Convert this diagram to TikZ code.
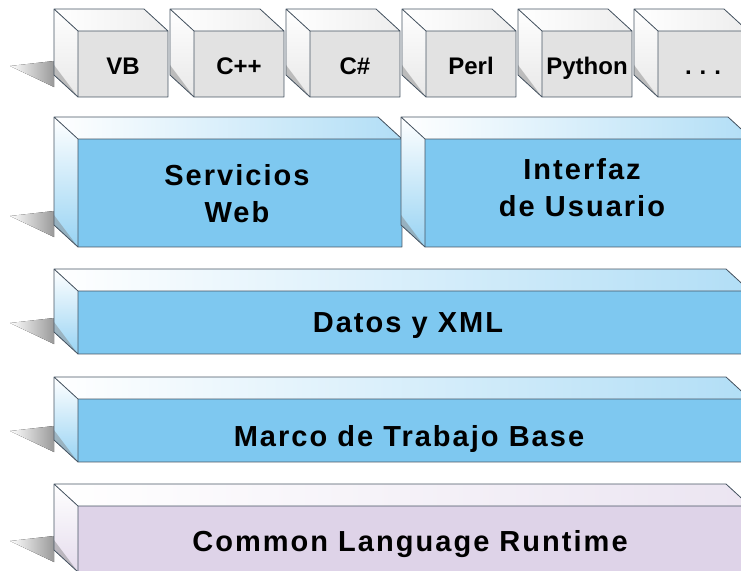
\documentclass[tikz,border=0pt]{standalone}
\usepackage{fontspec}
\setmainfont{Liberation Sans}
\definecolor{azul}{RGB}{126,200,240}
\definecolor{lila}{RGB}{222,211,232}
\definecolor{gris}{RGB}{226,226,226}
\definecolor{borde}{RGB}{72,86,100}
% caja: x izq, y arriba, x der, y abajo (cara frontal), color
\newcommand{\capa}[5]{%
	\fill[left color=white, right color=#5!60!white] (#1-24,#2-22) -- (#3-24,#2-22) -- (#3,#2) -- (#1,#2) -- cycle;
	\fill[top color=white, bottom color=#5!80!white] (#1-24,#2-22) -- (#1,#2) -- (#1,#4) -- (#1-24,#4-22) -- cycle;
	\fill[black!50, opacity=0.45] (#1-24,#4-32) -- (#1,#4) -- (#1-24,#4-22) -- cycle;
	\fill[#5] (#1,#2) rectangle (#3,#4);
	\draw[borde] (#1-24,#2-22) -- (#3-24,#2-22) -- (#3,#2) -- (#1,#2) -- cycle
		(#1-24,#2-22) -- (#1-24,#4-22) -- (#1,#4) -- (#3,#4) -- (#3,#2) (#1,#2) -- (#1,#4);
}
\begin{document}
\begin{tikzpicture}[x=1pt, y=-1pt, line width=0.8pt, line join=round,
	rotulo/.style={font=\fontsize{29}{37}\selectfont\bfseries\addfontfeatures{LetterSpace=7}, align=center},
	lengua/.style={font=\fontsize{24}{28}\selectfont\bfseries, anchor=base},
	sombra/.style={left color=white, right color=black!40}]
		\useasboundingbox (0,0) rectangle (741,570);
		\clip (0,0) rectangle (741,570);
		% sombras en el suelo
		\foreach \yb in {75,225,332,440,550}
			\fill[sombra] (10,\yb-9) -- (54,\yb-14) -- (54,\yb+12) -- cycle;
		% lenguajes
		\foreach \x/\lang in {78/VB,194/C++,310/C\#,426/Perl,542/Python,658/{.\hspace{8pt}.\hspace{8pt}.}}{
			\capa{\x}{31}{\x+90}{97}{gris}
			\node[lengua] (leng-\x) at (\x+45,74) {\lang};
		}
		% capas
		\capa{78}{139}{402}{247}{azul}
		\capa{425}{139}{752}{247}{azul}
		\capa{78}{291}{750}{354}{azul}
		\capa{78}{399}{750}{462}{azul}
		\capa{78}{506}{750}{572}{lila}
		\node[rotulo] (web) at (237,194) {Servicios\\Web};
		\node[rotulo] (interfaz) at (582,188) {Interfaz\\de Usuario};
		\node[rotulo, anchor=base] (datos) at (408,332) {Datos y XML};
		\node[rotulo, anchor=base] (marco) at (409,446) {Marco de Trabajo Base};
		\node[rotulo, anchor=base] (clr) at (410,551) {Common Language Runtime};
\end{tikzpicture}
\end{document}
